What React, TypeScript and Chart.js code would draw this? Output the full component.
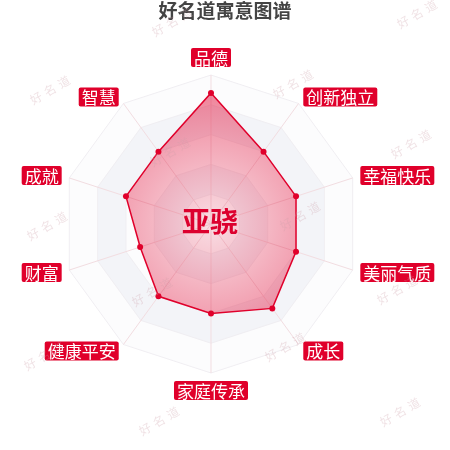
import React, { useEffect, useRef } from "react";
import { Chart, registerables } from "chart.js";

Chart.register(...registerables);

// ---- data ----
const categories = ["品德", "创新独立", "幸福快乐", "美丽气质", "成长", "家庭传承", "健康平安", "财富", "成就", "智慧"];
const values = [88, 60, 60, 60, 70, 60, 60, 50, 60, 60];
const ringValues = [0, 20, 40, 60, 80, 100];
const titleText = "好名道寓意图谱";
const nameText = "亚骁";
const watermarkText = "好名道";

// ---- styles ----
const RED = "#e0002b";
const FONT = '"Noto Sans CJK SC", "Noto Sans", sans-serif';
const BAND_A = "#fcfcfd";
const BAND_B = "#f3f4f8";
const watermarkSpots: [number, number][] = [
  [172, 22], [417, 14],
  [50, 90], [293, 84],
  [170, 152], [411, 144],
  [47, 226], [300, 216],
  [152, 292], [397, 290],
  [44, 356], [285, 347],
  [159, 421], [400, 412],
];

const decorPlugin = {
  id: "decor",
  beforeDraw(chart: any) {
    const s = chart.scales.r;
    const ctx = chart.ctx;
    const n = chart.data.labels.length;
    ctx.save();
    for (let k = ringValues.length - 1; k > 0; k--) {
      ctx.beginPath();
      for (let i = 0; i < n; i++) {
        const p = s.getPointPositionForValue(i, ringValues[k]);
        if (i === 0) ctx.moveTo(p.x, p.y);
        else ctx.lineTo(p.x, p.y);
      }
      ctx.closePath();
      ctx.fillStyle = (k - 1) % 2 === 0 ? BAND_A : BAND_B;
      ctx.fill();
    }
    ctx.restore();
  },
  afterDatasetsDraw(chart: any) {
    const s = chart.scales.r;
    const ctx = chart.ctx;
    ctx.save();
    ctx.font = `bold 28px ${FONT}`;
    ctx.fillStyle = "#dc002e";
    ctx.textAlign = "center";
    ctx.textBaseline = "middle";
    ctx.fillText(nameText, s.xCenter - 1, s.yCenter - 3);
    ctx.restore();
  },
  afterDraw(chart: any) {
    const s = chart.scales.r;
    const ctx = chart.ctx;
    const labels: string[] = chart.data.labels;
    const n = labels.length;
    ctx.save();
    // title
    ctx.font = `bold 19px ${FONT}`;
    ctx.fillStyle = "#444444";
    ctx.textAlign = "center";
    ctx.textBaseline = "middle";
    ctx.fillText(titleText, chart.width / 2, 11);

    // axis name labels
    ctx.font = `17px ${FONT}`;
    ctx.textAlign = "left";
    const boxH = 19;
    for (let i = 0; i < n; i++) {
      const p = s.getPointPosition(i, s.drawingArea + 8);
      const theta = (i * 2 * Math.PI) / n;
      const sn = Math.sin(theta);
      const cs = Math.cos(theta);
      const w = ctx.measureText(labels[i]).width;
      const boxW = w + 6;
      let bx: number;
      let by: number;
      if (Math.abs(sn) < 0.01) {
        bx = p.x - boxW / 2;
        by = cs > 0 ? p.y - boxH : p.y;
      } else {
        bx = sn > 0 ? p.x : p.x - boxW;
        by = p.y - boxH / 2;
      }
      ctx.fillStyle = RED;
      ctx.beginPath();
      (ctx as any).roundRect(bx, by, boxW, boxH, 2);
      ctx.fill();
      ctx.fillStyle = "#ffffff";
      ctx.textBaseline = "middle";
      ctx.fillText(labels[i], bx + 3, by + boxH / 2 + 1);
    }

    // watermarks
    ctx.font = `12px ${FONT}`;
    ctx.fillStyle = "rgba(205,160,170,0.3)";
    ctx.textAlign = "center";
    ctx.textBaseline = "middle";
    const chars = Array.from(watermarkText);
    for (const [x, y] of watermarkSpots) {
      ctx.save();
      ctx.translate(x, y);
      ctx.rotate(-Math.PI / 6);
      chars.forEach((c, j) => {
        ctx.fillText(c, (j - (chars.length - 1) / 2) * 16, 0);
      });
      ctx.restore();
    }
    ctx.restore();
  },
};

export default function App() {
  const ref = useRef<HTMLCanvasElement | null>(null);
  useEffect(() => {
    if (!ref.current) return;
    const chart = new Chart(ref.current, {
      type: "radar",
      data: {
        labels: categories,
        datasets: [
          {
            data: values,
            borderColor: RED,
            borderWidth: 1.5,
            pointRadius: 3,
            pointBorderWidth: 0,
            pointBackgroundColor: RED,
            fill: true,
            backgroundColor: (c: any) => {
              const chart = c.chart;
              const s = chart.scales && chart.scales.r;
              if (!s || !chart.chartArea) return "rgba(225,0,45,0.35)";
              const g = chart.ctx.createRadialGradient(s.xCenter, s.yCenter, 0, s.xCenter, s.yCenter, s.drawingArea);
              g.addColorStop(0, "rgba(225,0,45,0.12)");
              g.addColorStop(1, "rgba(225,0,45,0.52)");
              return g;
            },
          },
        ],
      },
      options: {
        animation: false,
        responsive: false,
        devicePixelRatio: 1,
        layout: { padding: { left: 62, right: 89, top: 75, bottom: 76 } },
        plugins: { legend: { display: false }, title: { display: false }, tooltip: { enabled: false } },
        scales: {
          r: {
            min: 0,
            max: 100,
            ticks: { display: false, stepSize: 20 },
            pointLabels: { display: false },
            grid: { color: "#f0eef2", lineWidth: 1 },
            angleLines: { color: "#f2dde1", lineWidth: 1 },
          },
        },
      },
      plugins: [decorPlugin],
    });
    return () => chart.destroy();
  }, []);
  return (
    <div style={{ position: "absolute", left: 0, top: 0, width: 450, height: 450, background: "#fff" }}>
      <canvas ref={ref} width={450} height={450} style={{ width: 450, height: 450 }} />
    </div>
  );
}
